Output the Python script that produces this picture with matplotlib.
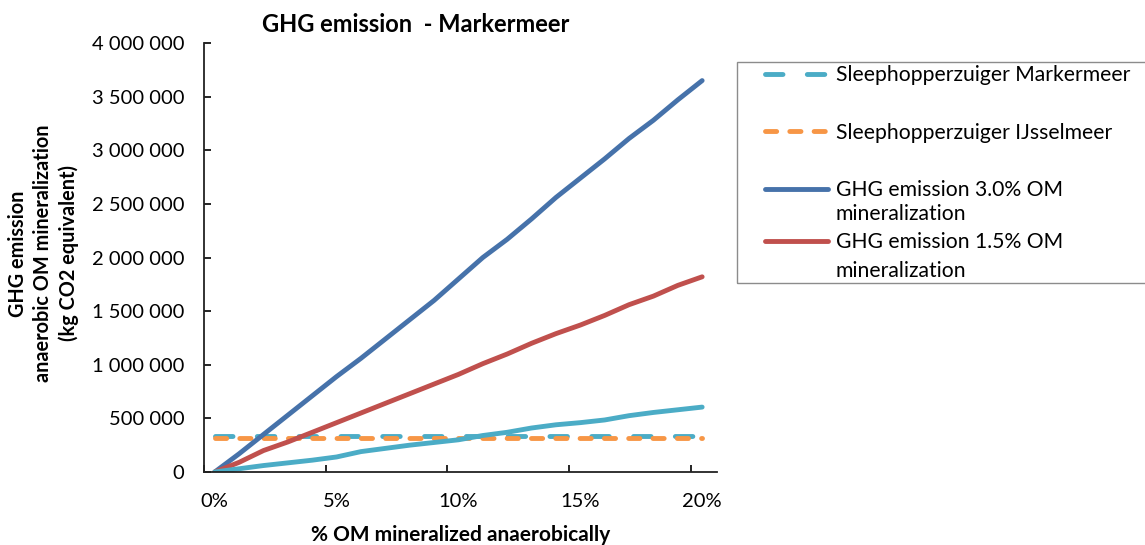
import matplotlib
matplotlib.use("Agg")
import matplotlib.pyplot as plt
from matplotlib.lines import Line2D
from matplotlib.patches import Rectangle
from matplotlib.ticker import FuncFormatter, FixedLocator

plt.rcParams['font.family'] = ['Lato', 'DejaVu Sans']

# % OM mineralized anaerobically
pct = list(range(0, 21))

# kg CO2 equivalent
ghg_30 = [0, 170000, 350000, 530000, 710000, 890000, 1060000, 1240000, 1420000,
          1600000, 1800000, 2000000, 2170000, 2360000, 2560000, 2740000, 2920000,
          3110000, 3280000, 3470000, 3650000]
ghg_15 = [0, 90000, 200000, 280000, 370000, 460000, 550000, 640000, 730000,
          820000, 910000, 1010000, 1100000, 1200000, 1290000, 1370000, 1460000,
          1560000, 1640000, 1740000, 1820000]
ghg_low = [0, 30000, 60000, 85000, 110000, 140000, 190000, 220000, 250000,
           275000, 300000, 340000, 370000, 410000, 440000, 460000, 485000,
           525000, 555000, 580000, 605000]
shz_markermeer = 340000
shz_ijsselmeer = 315000

labels = ["Sleephopperzuiger Markermeer", "Sleephopperzuiger IJsselmeer",
          "GHG emission 3.0% OM\nmineralization", "GHG emission 1.5% OM\nmineralization"]
xtick_vals = [0, 5, 10, 15, 20]

c_cyan = "#4BACC6"
c_orange = "#F79646"
c_blue = "#4672AA"
c_red = "#C0504D"
lw = 3.5
W, H = 1145, 545

fig = plt.figure(figsize=(W / 100, H / 100), dpi=100)
ax = fig.add_axes([0.178, 0.134, 0.448, 0.787])

h1, = ax.plot(pct, [shz_markermeer] * len(pct), color=c_cyan, lw=lw,
              dashes=(3.6, 5.0), dash_capstyle="round")
h2, = ax.plot(pct, [shz_ijsselmeer] * len(pct), color=c_orange, lw=lw,
              dashes=(2.3, 2.7), dash_capstyle="round")
h3, = ax.plot(pct, ghg_30, color=c_blue, lw=lw, solid_capstyle="round")
h4, = ax.plot(pct, ghg_15, color=c_red, lw=lw, solid_capstyle="round")
ax.plot(pct, ghg_low, color=c_cyan, lw=lw, solid_capstyle="round")

ax.set_xlim(-0.45, 20.6)
ax.set_ylim(0, 4000000)
ax.set_yticks(range(0, 4000001, 500000))
ax.yaxis.set_major_formatter(FuncFormatter(lambda v, p: f"{v:,.0f}".replace(",", " ")))

# tick marks sit between categories, labels on the category itself
ax.xaxis.set_major_locator(FixedLocator([v - 0.45 for v in xtick_vals]))
ax.xaxis.set_major_formatter(FuncFormatter(lambda v, p: ""))
ax.xaxis.set_minor_locator(FixedLocator(xtick_vals))
ax.xaxis.set_minor_formatter(FuncFormatter(lambda v, p: f"{v:.0f}%"))
ax.tick_params(axis="x", which="minor", length=0, pad=15, labelsize=14.5)
ax.tick_params(axis="x", which="major", direction="in", length=5, width=1.2)
ax.tick_params(axis="y", direction="in", length=5, width=1.2, labelsize=14.5, pad=14)

for s in ["top", "right"]:
    ax.spines[s].set_visible(False)
for s in ["left", "bottom"]:
    ax.spines[s].set_linewidth(1.3)
    ax.spines[s].set_color("#222222")

ax.set_xlabel("% OM mineralized anaerobically", fontsize=15, fontweight="bold", labelpad=11)
fig.text(0.038, 0.535, "GHG emission\nanaerobic OM mineralization\n(kg CO2 equivalent)",
         rotation=90, ha="center", va="center", fontsize=14.3, fontweight="bold",
         linespacing=1.3)
fig.text(416 / W, 1 - 25 / H, "GHG emission  - Markermeer", ha="center", va="center",
         fontsize=17, fontweight="bold")

# Excel puts the swatch on the first line of a wrapped label, so the legend
# is built from two stacked pieces: wide-spaced rows, then tight wrapped rows
l3a, l3b = labels[2].split("\n")
l4a, l4b = labels[3].split("\n")
blank = Line2D([], [], linestyle="none")
leg_kw = dict(loc="upper left", fontsize=15.2, frameon=False, handlelength=3.0,
              handletextpad=0.35, borderpad=0, borderaxespad=0)
leg1 = fig.legend([h1, h2, h3], [labels[0], labels[1], l3a],
                  bbox_to_anchor=(765 / W, 1 - 65 / H), labelspacing=1.78, **leg_kw)
leg2 = fig.legend([blank, h4, blank], [l3b, l4a, l4b],
                  bbox_to_anchor=(765 / W, 1 - 204 / H), labelspacing=0.40, **leg_kw)

# legend box runs off the right edge of the figure
fig.patches.append(Rectangle((737 / W, 1 - 283 / H), (W - 737 + 10) / W, 221 / H,
                             transform=fig.transFigure, fill=False,
                             edgecolor="#8c8c8c", lw=1.0))

plt.savefig("out.png", dpi=100)
plt.close(fig)
